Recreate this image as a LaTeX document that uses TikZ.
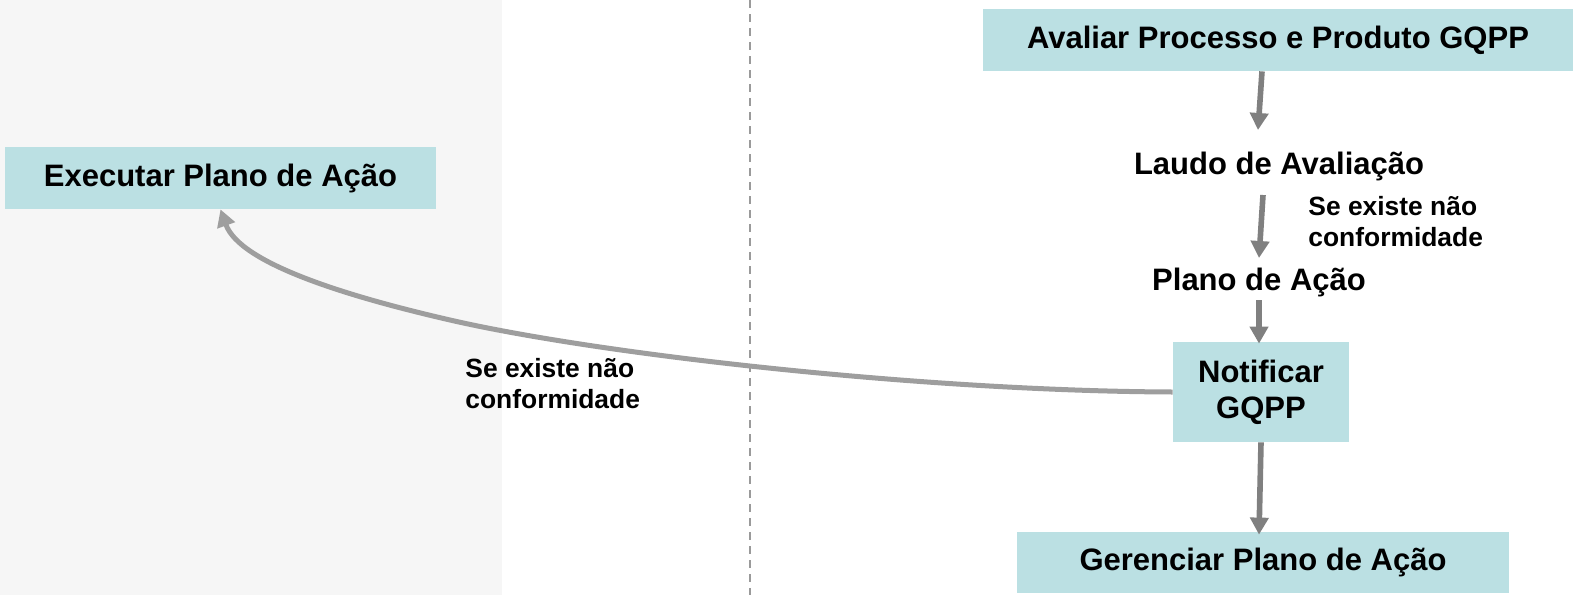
\documentclass[tikz,border=0pt]{standalone}
\usepackage{fontspec}
\setmainfont{Liberation Sans}
\usetikzlibrary{arrows.meta}

\definecolor{boxteal}{HTML}{BBE0E3}
\definecolor{lanegray}{HTML}{F6F6F6}
\definecolor{flowgray}{HTML}{808080}
\definecolor{backgray}{HTML}{9E9E9E}
\definecolor{dashgray}{HTML}{9A9A9A}

\tikzset{
  activity/.style={fill=boxteal, inner sep=0pt, align=center,
    font=\fontsize{15.5}{18}\selectfont\bfseries},
  artefact/.style={inner sep=0pt, font=\fontsize{15.5}{18}\selectfont\bfseries},
  guard/.style={inner sep=0pt, anchor=west, align=left,
    font=\fontsize{13.2}{15.5}\selectfont\bfseries},
  flow/.style={draw=flowgray, line width=2.8pt, -{Triangle[length=8.5pt,width=9pt]}},
}

\begin{document}
\begin{tikzpicture}[x=0.5pt,y=-0.5pt]
    \useasboundingbox (0,0) rectangle (1573,595);
    \fill[lanegray] (0,0) rectangle (502,595);
    \draw[dashgray, line width=0.75pt, dash pattern=on 4pt off 3pt] (750,0) -- (750,595);

    \node[activity, minimum width=295pt, minimum height=31pt] (avaliar) at (1278,40) {Avaliar Processo e Produto GQPP};
    \node[artefact] (laudo) at (1279,166) {Laudo de Avaliação};
    \node[guard] (cond-right) at (1308,222) {Se existe não\\conformidade};
    \node[artefact] (plano) at (1259,282) {Plano de Ação};
    \node[activity, minimum width=88pt, minimum height=50pt] (notificar) at (1261,392) {Notificar\\GQPP};
    \node[activity, minimum width=246pt, minimum height=30.5pt] (gerenciar) at (1263,562.5) {Gerenciar Plano de Ação};
    \node[activity, minimum width=215.5pt, minimum height=31pt] (executar) at (220.5,178) {Executar Plano de Ação};
    \node[guard] (cond-left) at (465,384) {Se existe não\\conformidade};

    \draw[flow] ([xshift=-8pt]avaliar.south) -- ([xshift=-10.5pt,yshift=18pt]laudo.center);
    \draw[flow] ([xshift=-8pt,yshift=-14.5pt]laudo.center) -- ([yshift=12pt]plano.center);
    \draw[flow] ([yshift=-9pt]plano.center) -- ([xshift=-1pt,yshift=-1pt]notificar.north);
    \draw[flow] (notificar.south) -- ([xshift=-2pt,yshift=-1.5pt]gerenciar.north);

    \draw[flow, draw=backgray, line width=2.5pt] (notificar.west) .. controls (923,391) and (600,354.5) .. (450,320)
        .. controls (350,297) and (240,264) .. (executar.south);
\end{tikzpicture}
\end{document}
